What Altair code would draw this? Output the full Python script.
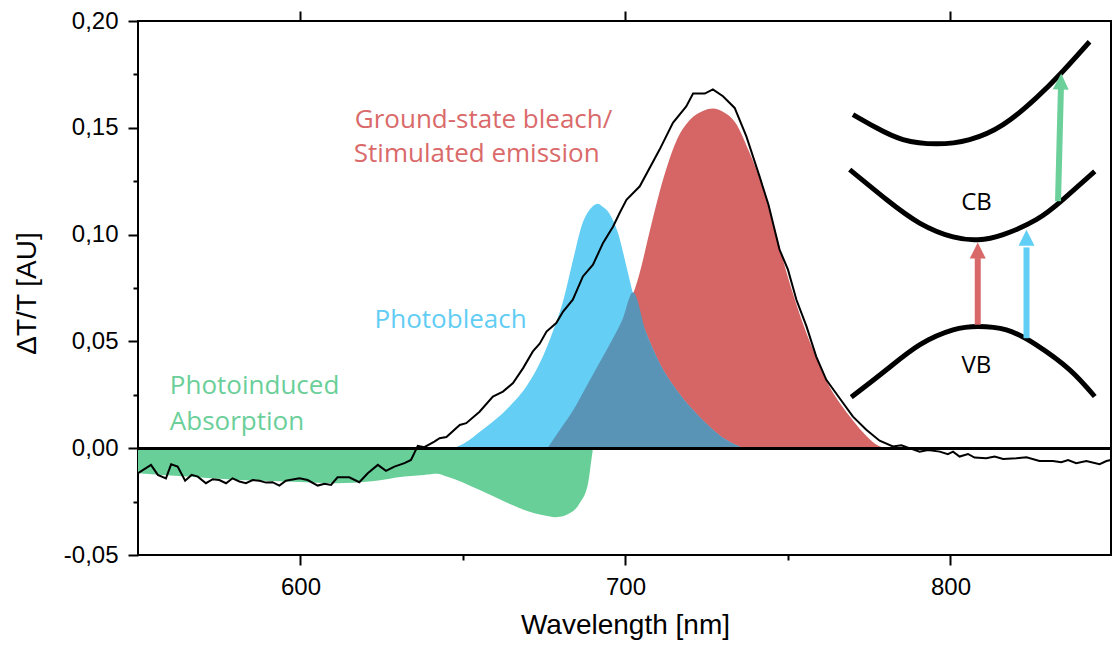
import altair as alt
import pandas as pd

# ---- measured transient spectrum (black trace) ----
meas_x = [550.0, 554.0, 556.1, 558.6, 560.2, 562.2, 564.5, 566.5, 568.4, 570.9, 573.0, 575.0,
          577.1, 579.1, 581.2, 583.2, 585.3, 587.4, 589.4, 591.4, 593.5, 595.5, 599.7, 602.2,
          605.3, 607.4, 609.4, 611.4, 615.0, 618.1, 620.7, 623.8, 626.3, 628.9, 632.0, 634.0,
          636.1, 638.1, 641.2, 642.8, 644.9, 649.0, 651.0, 655.1, 659.2, 662.3, 665.4, 668.5,
          671.5, 673.6, 675.7, 678.7, 680.8, 683.8, 686.9, 690.0, 693.1, 696.2, 698.2, 700.3,
          704.4, 710.5, 714.6, 718.7, 720.8, 724.4, 726.9, 730.0, 733.6, 737.2, 741.3, 744.0,
          747.4, 750.0, 752.6, 755.7, 758.7, 761.8, 765.9, 770.0, 774.1, 778.2, 782.3, 784.9,
          788.0, 790.5, 793.1, 796.7, 799.2, 800.8, 802.8, 805.4, 807.4, 811.0, 813.6, 816.2,
          820.3, 823.4, 827.4, 831.5, 834.1, 836.2, 838.7, 841.8, 845.9, 848.0, 849.4]
meas_y = [-0.0117, -0.0078, -0.0125, -0.0141, -0.0075, -0.0086, -0.0152, -0.0125, -0.0133, -0.0164, -0.0145, -0.0149,
          -0.0164, -0.0141, -0.0156, -0.0164, -0.0149, -0.0152, -0.0161, -0.0159, -0.0175, -0.0152, -0.0141, -0.0149,
          -0.0175, -0.0167, -0.0172, -0.0136, -0.0136, -0.0159, -0.0117, -0.0078, -0.0106, -0.0086, -0.0070, -0.0055,
          0.0011, 0.0005, 0.0031, 0.0047, 0.0052, 0.0109, 0.0117, 0.0171, 0.0242, 0.0265, 0.0305, 0.0375,
          0.0453, 0.0489, 0.0546, 0.0586, 0.0640, 0.0695, 0.0804, 0.0859, 0.0961, 0.1038, 0.1101, 0.1163,
          0.1226, 0.1398, 0.1523, 0.1600, 0.1660, 0.1660, 0.1680, 0.1648, 0.1593, 0.1460, 0.1270, 0.1140,
          0.0930, 0.0836, 0.0695, 0.0570, 0.0429, 0.0320, 0.0234, 0.0148, 0.0086, 0.0035, 0.0008, 0.0014,
          -0.0003, -0.0016, -0.0008, -0.0016, -0.0028, -0.0016, -0.0039, -0.0027, -0.0044, -0.0047, -0.0039, -0.0050,
          -0.0047, -0.0042, -0.0060, -0.0060, -0.0066, -0.0055, -0.0070, -0.0060, -0.0075, -0.0060, -0.0055]

# ---- photoinduced absorption (green) ----
green_x = [550, 565, 580, 596, 611, 622, 632, 638, 642, 645, 650, 655, 660, 665, 670, 674,
           678.7, 682.8, 685.9, 688.5, 689.5, 690]
green_y = [-0.0117, -0.0133, -0.0148, -0.0156, -0.0164, -0.0155, -0.0133, -0.0125, -0.0120, -0.0133,
           -0.0160, -0.0195, -0.0230, -0.0265, -0.0295, -0.0312, -0.0323, -0.0305, -0.0258, -0.0164,
           -0.0055, 0.0]

# ---- photobleach (blue) ----
blue_x = [647, 650, 656, 664, 670, 674, 677, 681, 684, 686.5, 689, 691.5, 693, 695, 697.7, 700.3,
          702.8, 706.4, 710.5, 715.7, 720.8, 725.9, 731, 735, 737]
blue_y = [0.0, 0.002, 0.0086, 0.019, 0.030, 0.041, 0.052, 0.070, 0.089, 0.104, 0.1117, 0.1145, 0.113,
          0.110, 0.1007, 0.0851, 0.0695, 0.0539, 0.0398, 0.0273, 0.0179, 0.0101, 0.0039, 0.0008, 0.0]

# ---- ground-state bleach / stimulated emission (red) ----
red_x = [676, 680, 684, 688, 692, 696, 700, 704, 708, 712, 716, 720, 724, 727, 730, 734, 738, 742,
         746, 750, 754, 758, 762, 766, 770, 774, 778, 780]
red_y = [0.0, 0.009, 0.018, 0.029, 0.040, 0.051, 0.063, 0.080, 0.105, 0.128, 0.145, 0.154, 0.158,
         0.159, 0.1575, 0.152, 0.139, 0.123, 0.102, 0.080, 0.061, 0.045, 0.031, 0.021, 0.013, 0.006,
         0.001, 0.0]

# ---- region where blue and red overlap ----
ovl_x = [676, 680, 684, 688, 692, 696, 699, 702.3, 706.4, 710.5, 715.7, 720.8, 725.9, 731, 735, 737]
ovl_y = [0.0, 0.009, 0.018, 0.029, 0.040, 0.051, 0.060, 0.073, 0.0539, 0.0398, 0.0273, 0.0179,
         0.0101, 0.0039, 0.0008, 0.0]

# ---- inset band diagram, in the chart's own units ----
upper_x = [770.0, 777.2, 785.4, 795.7, 805.9, 816.2, 826.4, 834.6, 842.8]
upper_y = [0.1562, 0.1500, 0.1445, 0.1425, 0.1445, 0.1515, 0.1640, 0.1765, 0.1903]
cb_x = [769.0, 780.3, 790.5, 800.8, 808.5, 816.2, 826.4, 834.6, 844.4]
cb_y = [0.1304, 0.1164, 0.1054, 0.0989, 0.0976, 0.1000, 0.1070, 0.1164, 0.1296]
vb_x = [769.5, 780.3, 790.5, 800.8, 808.5, 817.2, 826.4, 836.7, 844.4]
vb_y = [0.0239, 0.0367, 0.0484, 0.0554, 0.0570, 0.0554, 0.0484, 0.0367, 0.0242]

arrow_name = ["bleach", "photobleach", "absorption"]
arrow_x0 = [808.4, 823.4, 833.1]
arrow_y0 = [0.0578, 0.0515, 0.1156]
arrow_x1 = [808.4, 823.4, 834.0]
arrow_y1 = [0.0890, 0.0940, 0.1692]
arrow_tip_y = [0.0963, 0.1023, 0.1754]
arrow_tilt = [0, 0, 1.5]

band_labels = ["CB", "VB"]
band_label_x = [808.0, 808.0]
band_label_y = [0.1113, 0.0351]

ann_text = ["Ground-state bleach/", "Stimulated emission", "Photobleach", "Photoinduced", "Absorption"]
ann_x = [616.7, 616.4, 622.8, 559.8, 559.8]
ann_y = [0.1501, 0.1342, 0.0564, 0.0254, 0.0086]
ann_group = ["red", "red", "blue", "green", "green"]

GREEN = "#67CF97"
BLUE = "#65CEF5"
RED = "#D66666"
OVERLAP = "#5994B7"
TXT = {"red": "#DA6A6A", "blue": "#62CDF4", "green": "#6ACF99"}
ARROW = {"bleach": "#D96869", "photobleach": "#60CEF5", "absorption": "#6BD09A"}

meas = pd.DataFrame({"x": meas_x, "y": meas_y})
green = pd.DataFrame({"x": green_x, "y": green_y})
blue = pd.DataFrame({"x": blue_x, "y": blue_y})
red = pd.DataFrame({"x": red_x, "y": red_y})
ovl = pd.DataFrame({"x": ovl_x, "y": ovl_y})
bands = pd.concat([
    pd.DataFrame({"x": upper_x, "y": upper_y, "band": "upper"}),
    pd.DataFrame({"x": cb_x, "y": cb_y, "band": "CB"}),
    pd.DataFrame({"x": vb_x, "y": vb_y, "band": "VB"}),
])
arrows = pd.DataFrame({"name": arrow_name, "x0": arrow_x0, "y0": arrow_y0, "x1": arrow_x1,
                       "y1": arrow_y1, "ty": arrow_tip_y, "tilt": arrow_tilt,
                       "c": [ARROW[n] for n in arrow_name]})
blabels = pd.DataFrame({"t": band_labels, "x": band_label_x, "y": band_label_y})
ann = pd.DataFrame({"t": ann_text, "x": ann_x, "y": ann_y, "c": [TXT[g] for g in ann_group]})

xs = alt.Scale(domain=[550, 849.4], nice=False, zero=False)
ys = alt.Scale(domain=[-0.05, 0.20], nice=False, zero=False)

FONT = "Liberation Sans"
x_main = alt.Axis(orient="bottom", values=[600, 700, 800], format="d", tickSize=10, tickWidth=2,
                  tickColor="black", domain=False, grid=False, labelFont=FONT, labelFontSize=24,
                  labelColor="black", labelPadding=10, title="Wavelength [nm]", titleFont=FONT,
                  titleFontSize=28, titleFontWeight="normal", titleColor="black",
                  titleX=487, titleY=78, titleBaseline="alphabetic", titleAlign="center")
x_minor = alt.Axis(orient="bottom", values=[650, 750], tickSize=5, tickWidth=2, tickColor="black",
                   labels=False, domain=False, grid=False, title=None)
x_top = alt.Axis(orient="top", values=[600, 700, 800], tickSize=10, tickWidth=2, tickColor="black",
                 labels=False, domain=False, grid=False, title=None)
y_main = alt.Axis(orient="left", values=[-0.05, 0, 0.05, 0.10, 0.15, 0.20],
                  labelExpr="(datum.value < 0 ? '-' : '') + replace(format(abs(datum.value), '.2f'), '.', ',')",
                  tickSize=10, tickWidth=2, tickColor="black", domain=False, grid=False,
                  labelFont=FONT, labelFontSize=24, labelColor="black", labelPadding=10,
                  title="ΔT/T [AU]", titleFont=FONT, titleFontSize=28, titleFontWeight="normal",
                  titleColor="black", titleAngle=270, titleX=-103, titleY=272,
                  titleBaseline="alphabetic", titleAlign="center")
y_minor = alt.Axis(orient="left", values=[-0.025, 0.025, 0.075, 0.125, 0.175], tickSize=5,
                   tickWidth=2, tickColor="black", labels=False, domain=False, grid=False, title=None)

green_layer = alt.Chart(green).mark_area(color=GREEN, interpolate="monotone", clip=True).encode(
    x=alt.X("x:Q", scale=xs, axis=x_minor),
    y=alt.Y("y:Q", scale=ys, axis=y_minor),
    y2=alt.datum(0),
)
red_layer = alt.Chart(red).mark_area(color=RED, interpolate="monotone", clip=True).encode(
    x=alt.X("x:Q", scale=xs, axis=x_top),
    y=alt.Y("y:Q", scale=ys, axis=None),
    y2=alt.datum(0),
)
blue_layer = alt.Chart(blue).mark_area(color=BLUE, interpolate="monotone", clip=True).encode(
    x=alt.X("x:Q", scale=xs, axis=None),
    y=alt.Y("y:Q", scale=ys, axis=None),
    y2=alt.datum(0),
)
ovl_layer = alt.Chart(ovl).mark_area(color=OVERLAP, interpolate="monotone", clip=True).encode(
    x=alt.X("x:Q", scale=xs, axis=None),
    y=alt.Y("y:Q", scale=ys, axis=None),
    y2=alt.datum(0),
)
zero_layer = alt.Chart(meas).mark_rule(color="black", strokeWidth=2).encode(
    y=alt.Y(datum=0, scale=ys, axis=None),
)
meas_layer = alt.Chart(meas).mark_line(color="black", strokeWidth=2, clip=True).encode(
    x=alt.X("x:Q", scale=xs, axis=x_main),
    y=alt.Y("y:Q", scale=ys, axis=y_main),
)
band_layer = alt.Chart(bands).mark_line(color="black", strokeWidth=5, interpolate="natural").encode(
    x=alt.X("x:Q", scale=xs, axis=None),
    y=alt.Y("y:Q", scale=ys, axis=None),
    detail="band:N",
)
shaft_layer = alt.Chart(arrows).mark_rule(strokeWidth=6).encode(
    x=alt.X("x0:Q", scale=xs, axis=None),
    y=alt.Y("y0:Q", scale=ys, axis=None),
    x2="x1:Q",
    y2="y1:Q",
    color=alt.Color("c:N", scale=None),
)
head_layer = alt.Chart(arrows).mark_point(shape="M-1,1L1,1L0,-1Z", filled=True, size=256,
                                          opacity=1, yOffset=8).encode(
    x=alt.X("x1:Q", scale=xs, axis=None),
    y=alt.Y("ty:Q", scale=ys, axis=None),
    angle=alt.Angle("tilt:Q", scale=None),
    color=alt.Color("c:N", scale=None),
)
blabel_layer = alt.Chart(blabels).mark_text(font="Open Sans", fontSize=24, color="black",
                                            align="center", baseline="alphabetic").encode(
    x=alt.X("x:Q", scale=xs, axis=None),
    y=alt.Y("y:Q", scale=ys, axis=None),
    text="t:N",
)
ann_layer = alt.Chart(ann).mark_text(font="Open Sans", fontSize=26, align="left",
                                     baseline="alphabetic").encode(
    x=alt.X("x:Q", scale=xs, axis=None),
    y=alt.Y("y:Q", scale=ys, axis=None),
    text="t:N",
    color=alt.Color("c:N", scale=None),
)

chart = alt.layer(
    green_layer, red_layer, blue_layer, ovl_layer, zero_layer, meas_layer,
    band_layer, shaft_layer, head_layer, blabel_layer, ann_layer,
).resolve_axis(x="independent", y="independent").properties(
    width=973, height=534,
    padding={"left": 138, "top": 21, "right": 1, "bottom": 85},
    autosize="none",
    background="white",
).configure_view(stroke="black", strokeWidth=2)

chart.save("out.html", embed_options={"renderer": "svg", "actions": False})
